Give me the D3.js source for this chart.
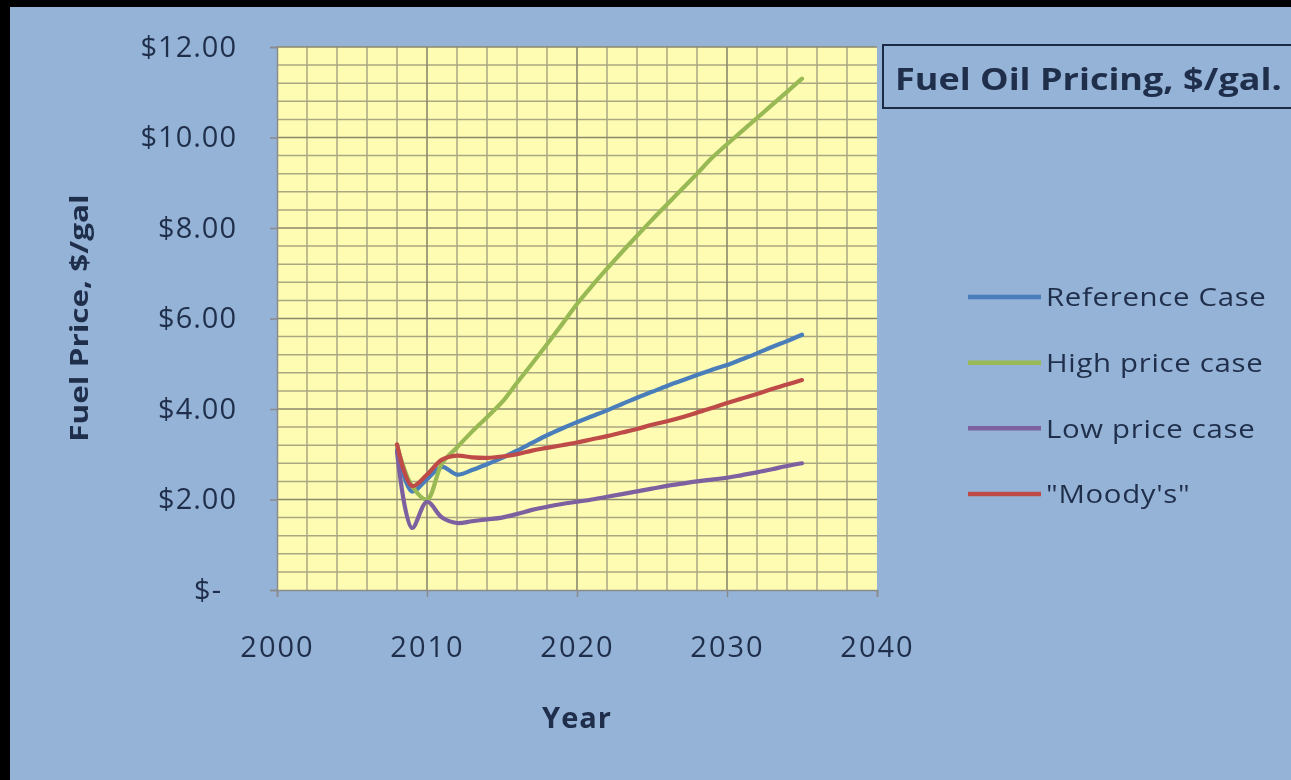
<!DOCTYPE html>
<html>
<head>
<meta charset="utf-8">
<script src="https://cdn.jsdelivr.net/npm/d3@7"></script>
<style>
  html, body { margin: 0; padding: 0; background: #000; }
  svg { display: block; filter: blur(0.6px); }
  text { font-family: "Open Sans", "Lato", sans-serif; fill: #1f2e4a; }
</style>
</head>
<body>
<svg id="chart" width="1291" height="780"></svg>
<script>
// Projected fuel oil prices, $/gal, by year
const years = [2008, 2009, 2010, 2011, 2012, 2013, 2014, 2015, 2016, 2017,
               2018, 2019, 2020, 2021, 2022, 2023, 2024, 2025, 2026, 2027,
               2028, 2029, 2030, 2031, 2032, 2033, 2034, 2035];

const referenceCase = [3.10, 2.18, 2.45, 2.72, 2.55, 2.65, 2.78, 2.92, 3.08, 3.25,
                       3.42, 3.57, 3.71, 3.84, 3.97, 4.11, 4.25, 4.38, 4.51, 4.63,
                       4.75, 4.87, 4.97, 5.10, 5.23, 5.37, 5.50, 5.64];

const highPriceCase = [3.20, 2.30, 2.00, 2.80, 3.15, 3.50, 3.82, 4.15, 4.58, 5.00,
                       5.43, 5.87, 6.32, 6.72, 7.10, 7.47, 7.83, 8.18, 8.52, 8.86,
                       9.20, 9.55, 9.85, 10.14, 10.43, 10.72, 11.01, 11.30];

const lowPriceCase = [3.05, 1.37, 1.95, 1.60, 1.48, 1.52, 1.56, 1.60, 1.68, 1.77,
                      1.84, 1.90, 1.95, 2.00, 2.06, 2.12, 2.18, 2.24, 2.30, 2.35,
                      2.40, 2.44, 2.48, 2.54, 2.60, 2.67, 2.74, 2.80];

const moodys = [3.22, 2.30, 2.55, 2.88, 2.97, 2.93, 2.92, 2.95, 3.00, 3.08,
                3.14, 3.20, 3.26, 3.33, 3.40, 3.48, 3.56, 3.65, 3.73, 3.82,
                3.92, 4.02, 4.13, 4.23, 4.33, 4.44, 4.54, 4.64];

const seriesNames = ["Reference Case", "High price case", "Low price case", "\"Moody's\""];
const seriesValues = [referenceCase, highPriceCase, lowPriceCase, moodys];
const seriesColors = ["#4a7ebb", "#98b954", "#7d60a0", "#be4b48"];

const xTicks = [2000, 2010, 2020, 2030, 2040];
const yTicks = [0, 2, 4, 6, 8, 10, 12];
const yTickLabels = ["$-", "$2.00", "$4.00", "$6.00", "$8.00", "$10.00", "$12.00"];

const chartTitle = "Fuel Oil Pricing, $/gal.";
const xTitle = "Year";
const yTitle = "Fuel Price, $/gal";

const svg = d3.select("#chart");
const W = 1291, H = 780;

// frame and chart area
svg.append("rect").attr("width", W).attr("height", H).attr("fill", "#000");
svg.append("rect").attr("x", 10).attr("y", 7).attr("width", W - 10).attr("height", H - 7)
  .attr("fill", "#95b3d7");

const plot = { left: 277, right: 877, top: 47, bottom: 590 };
const x = d3.scaleLinear().domain([2000, 2040]).range([plot.left, plot.right]);
const y = d3.scaleLinear().domain([0, 12]).range([plot.bottom, plot.top]);

// plot background
svg.append("rect")
  .attr("x", plot.left).attr("y", plot.top)
  .attr("width", plot.right - plot.left).attr("height", plot.bottom - plot.top)
  .attr("fill", "#fdfcb2");

// gridlines: minor then major
const grid = svg.append("g");
const minorX = d3.range(2000, 2041, 2).filter(v => v % 10 !== 0);
const minorY = d3.range(0, 12.001, 0.4).map(v => +v.toFixed(1))
  .filter(v => Math.abs(v / 2 - Math.round(v / 2)) > 1e-6);

grid.selectAll("line.mx").data(minorX).join("line")
  .attr("x1", d => x(d)).attr("x2", d => x(d))
  .attr("y1", plot.top).attr("y2", plot.bottom)
  .attr("stroke", "#aaa783").attr("stroke-width", 1.5);
grid.selectAll("line.my").data(minorY).join("line")
  .attr("x1", plot.left).attr("x2", plot.right)
  .attr("y1", d => y(d)).attr("y2", d => y(d))
  .attr("stroke", "#aaa783").attr("stroke-width", 1.5);
grid.selectAll("line.Mx").data(xTicks.slice(1, -1)).join("line")
  .attr("x1", d => x(d)).attr("x2", d => x(d))
  .attr("y1", plot.top).attr("y2", plot.bottom)
  .attr("stroke", "#8b896c").attr("stroke-width", 1.6);
grid.selectAll("line.My").data(yTicks.slice(1)).join("line")
  .attr("x1", plot.left).attr("x2", plot.right)
  .attr("y1", d => y(d)).attr("y2", d => y(d))
  .attr("stroke", "#8b896c").attr("stroke-width", 1.6);

// axes
const yAxis = d3.axisLeft(y).tickValues(yTicks)
  .tickFormat((d, i) => yTickLabels[i]).tickSize(7).tickPadding(33);
const gy = svg.append("g").attr("transform", `translate(${plot.left},0)`).call(yAxis);
gy.select(".domain").attr("stroke", "#8a8a8a").attr("stroke-width", 1.5);
gy.selectAll(".tick line").attr("stroke", "#8a8a8a").attr("stroke-width", 1.5);
gy.selectAll(".tick text")
  .attr("font-size", 29).attr("letter-spacing", 1).attr("fill", "#1f2e4a")
  .attr("font-family", "Open Sans")
  .attr("dx", d => d === 0 ? -15 : 0);

const xAxis = d3.axisBottom(x).tickValues(xTicks)
  .tickFormat(d3.format("d")).tickSize(7).tickPadding(39);
const gx = svg.append("g").attr("transform", `translate(0,${plot.bottom})`).call(xAxis);
gx.select(".domain").attr("stroke", "#8a8a8a").attr("stroke-width", 1.5);
gx.selectAll(".tick line").attr("stroke", "#8a8a8a").attr("stroke-width", 1.5);
gx.selectAll(".tick text")
  .attr("font-size", 29).attr("letter-spacing", 2).attr("fill", "#1f2e4a")
  .attr("font-family", "Open Sans");

// series lines
const line = d3.line()
  .x((d, i) => x(years[i]))
  .y(d => y(d))
  .curve(d3.curveCatmullRom.alpha(0.5));

svg.append("g").selectAll("path").data(seriesValues).join("path")
  .attr("d", d => line(d))
  .attr("fill", "none")
  .attr("stroke", (d, i) => seriesColors[i])
  .attr("stroke-width", 4.2)
  .attr("stroke-linejoin", "round")
  .attr("stroke-linecap", "round");

// axis titles
svg.append("text")
  .attr("x", x(2020)).attr("y", 728)
  .attr("text-anchor", "middle")
  .attr("font-size", 29).attr("font-weight", 700)
  .attr("letter-spacing", 1)
  .text(xTitle);

svg.append("text")
  .attr("transform", "translate(88,318) rotate(-90) scale(1.26,1)")
  .attr("text-anchor", "middle")
  .attr("font-size", 25).attr("font-weight", 700)
  .text(yTitle);

// chart title box
svg.append("rect")
  .attr("x", 883).attr("y", 45).attr("width", 430).attr("height", 63)
  .attr("fill", "none").attr("stroke", "#1b2a45").attr("stroke-width", 2);
svg.append("text")
  .attr("transform", "translate(895,90) scale(1.2,1)")
  .attr("font-size", 30).attr("font-weight", 700).attr("fill", "#15233d")
  .text(chartTitle);

// legend
const legendY = d3.scalePoint().domain(seriesNames).range([297, 494]);
const legend = svg.append("g").selectAll("g").data(seriesNames).join("g")
  .attr("transform", d => `translate(0,${legendY(d)})`);
legend.append("line")
  .attr("x1", 968).attr("x2", 1041).attr("y1", 0).attr("y2", 0)
  .attr("stroke", (d, i) => seriesColors[i]).attr("stroke-width", 4.5);
legend.append("text")
  .attr("transform", "translate(1046,0) scale(1.13,1)")
  .attr("dy", "0.36em")
  .attr("font-size", 26).attr("letter-spacing", 0.6)
  .text(d => d);
</script>
</body>
</html>
